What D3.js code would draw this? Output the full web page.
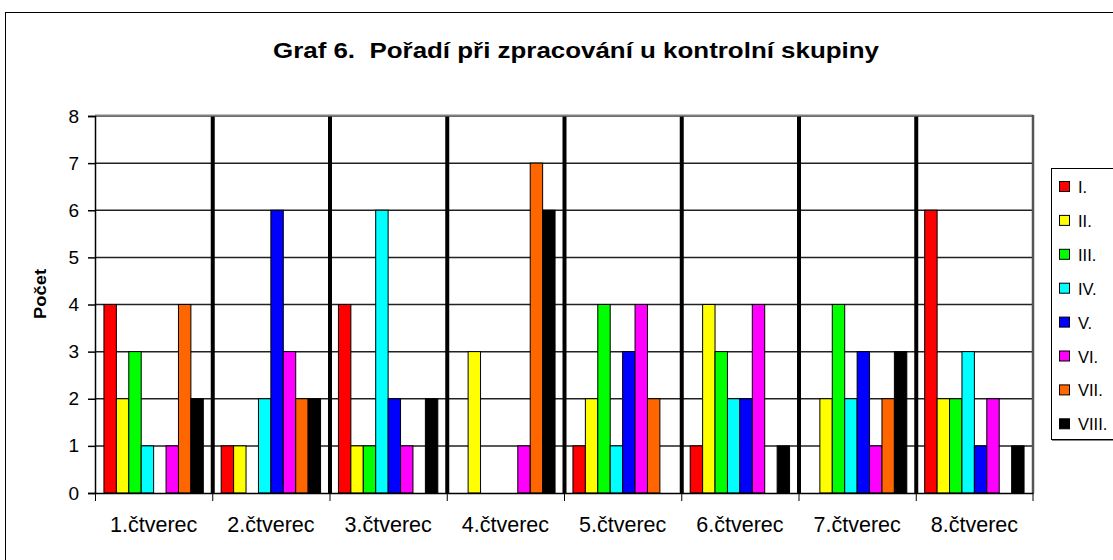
<!DOCTYPE html>
<html><head><meta charset="utf-8">
<script src="https://cdn.jsdelivr.net/npm/d3@7"></script>
<style>body{margin:0;background:#fff;}svg{display:block;font-family:"Liberation Sans",Arial,sans-serif;}text{white-space:pre;}</style>
</head><body>
<svg id="c" width="1113" height="560"></svg>
<script>
const categories = ["1.čtverec","2.čtverec","3.čtverec","4.čtverec","5.čtverec","6.čtverec","7.čtverec","8.čtverec"];
const seriesNames = ["I.","II.","III.","IV.","V.","VI.","VII.","VIII."];
const seriesColors = ["#FF0000","#FFFF00","#00FF00","#00FFFF","#0000FF","#FF00FF","#FF6600","#000000"];
const sI    = [4,1,4,0,1,1,0,6];
const sII   = [2,1,1,3,2,4,2,2];
const sIII  = [3,0,1,0,4,3,4,2];
const sIV   = [1,2,6,0,1,2,2,3];
const sV    = [0,6,2,0,3,2,3,1];
const sVI   = [1,3,1,1,4,4,1,2];
const sVII  = [4,2,0,7,2,0,2,0];
const sVIII = [2,2,2,6,0,1,3,1];
const yTicks = [0,1,2,3,4,5,6,7,8];
const title = "Graf 6.  Pořadí při zpracování u kontrolní skupiny";
const yTitle = "Počet";

const seriesValues = [sI,sII,sIII,sIV,sV,sVI,sVII,sVIII];
const svg = d3.select("#c");
const L = 95, R = 1033, T = 116, B = 493;

// outer border
svg.append("rect").attr("x",5.5).attr("y",12.5).attr("width",1200).attr("height",600)
  .attr("fill","none").attr("stroke","#000").attr("stroke-width",1);

const x0 = d3.scaleBand().domain(categories).range([L,R]).paddingInner(0).paddingOuter(0);
const x1 = d3.scaleBand().domain(seriesNames).range([0,x0.bandwidth()]).paddingInner(0).paddingOuter(0.72);
const y = d3.scaleLinear().domain([0,8]).range([B,T]);

// gridlines
svg.append("g").selectAll("line").data(yTicks.filter(d=>d>0)).join("line")
  .attr("x1",L).attr("x2",R).attr("y1",d=>y(d)).attr("y2",d=>y(d))
  .attr("stroke","#222").attr("stroke-width",1.5);

// thick category separators
svg.append("g").selectAll("line").data(categories.slice(1)).join("line")
  .attr("x1",d=>x0(d)+0.5).attr("x2",d=>x0(d)+0.5).attr("y1",T).attr("y2",B)
  .attr("stroke","#000").attr("stroke-width",4);

// plot border top/right
svg.append("line").attr("x1",L).attr("x2",R).attr("y1",T-0.5).attr("y2",T-0.5).attr("stroke","#808080").attr("stroke-width",2);
svg.append("line").attr("x1",R).attr("x2",R).attr("y1",T-1).attr("y2",B).attr("stroke","#555").attr("stroke-width",2.5);

// bars
const groups = svg.append("g").selectAll("g").data(categories).join("g")
  .attr("transform",d=>`translate(${x0(d)},0)`);
groups.selectAll("rect").data((c,ci)=>seriesNames.map((s,si)=>({s,si,v:seriesValues[si][ci]})).filter(d=>d.v>0))
  .join("rect")
  .attr("x",d=>x1(d.s)).attr("width",x1.bandwidth())
  .attr("y",d=>y(d.v)).attr("height",d=>y(0)-y(d.v))
  .attr("fill",d=>seriesColors[d.si]).attr("stroke","#000").attr("stroke-width",1);

// y axis
const ya = svg.append("g").attr("transform",`translate(${L},0)`)
  .call(d3.axisLeft(y).tickValues(yTicks).tickSize(7).tickPadding(9).tickFormat(d3.format("d")));
ya.select(".domain").attr("stroke","#000").attr("stroke-width",1.5);
ya.selectAll(".tick line").attr("stroke","#000").attr("stroke-width",1.5);
ya.selectAll("text").attr("font-size",19).attr("fill","#000").attr("font-family","Liberation Sans, Arial, sans-serif");

// x axis
const xa = svg.append("g").attr("transform",`translate(0,${B})`)
  .call(d3.axisBottom(x0).tickSize(0).tickPadding(24));
xa.select(".domain").attr("stroke","#000").attr("stroke-width",1.5);
xa.selectAll("text").attr("font-size",21.5).attr("fill","#000").attr("font-family","Liberation Sans, Arial, sans-serif");
svg.append("g").selectAll("line").data(categories.concat(["end"])).join("line")
  .attr("x1",(d,i)=>i<categories.length?x0(d)+0.5:R).attr("x2",(d,i)=>i<categories.length?x0(d)+0.5:R)
  .attr("y1",B).attr("y2",B+8).attr("stroke","#000").attr("stroke-width",1);

// title
svg.append("text").attr("x",576).attr("y",58).attr("text-anchor","middle")
  .attr("font-size",22).attr("font-weight","bold").attr("fill","#000")
  .attr("textLength",606).attr("lengthAdjust","spacingAndGlyphs").text(title);

// y title
svg.append("text").attr("transform","translate(46,294) rotate(-90)").attr("text-anchor","middle")
  .attr("font-size",16).attr("font-weight","bold").attr("fill","#000")
  .attr("textLength",50).attr("lengthAdjust","spacingAndGlyphs").text(yTitle);

// legend
const lg = svg.append("g");
lg.append("rect").attr("x",1051.5).attr("y",168.5).attr("width",80).attr("height",271)
  .attr("fill","#fff").attr("stroke","#000").attr("stroke-width",1);
lg.append("line").attr("x1",1052).attr("x2",1113).attr("y1",440.5).attr("y2",440.5).attr("stroke","#888");
const li = lg.selectAll("g").data(seriesNames).join("g")
  .attr("transform",(d,i)=>`translate(0,${187+i*33.9})`);
li.append("rect").attr("x",1059.5).attr("y",-5.5).attr("width",10).attr("height",10)
  .attr("fill",(d,i)=>seriesColors[i]).attr("stroke","#000");
li.append("text").attr("x",1078).attr("y",6).attr("font-size",16.5).attr("fill","#000").text(d=>d);
</script>
</body></html>
